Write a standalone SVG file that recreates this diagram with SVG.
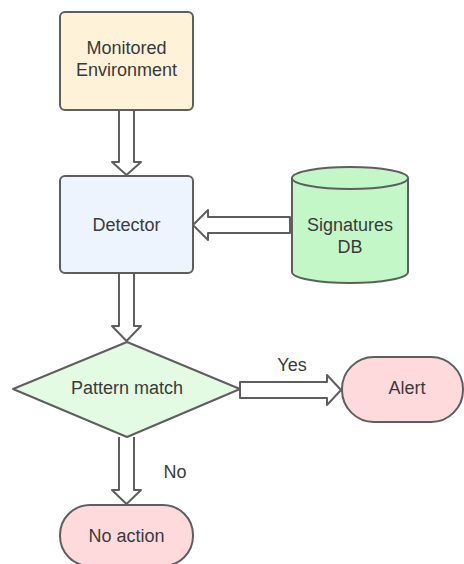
<svg xmlns="http://www.w3.org/2000/svg" width="464" height="564" viewBox="0 0 464 564">
<style>
.s{stroke:#5e5e5e;stroke-width:2;stroke-linejoin:round}
.t{font-family:"Liberation Sans",Arial,sans-serif;font-size:18px;fill:#3a3a3a;text-anchor:middle}
.a{fill:#ffffff;stroke:#5e5e5e;stroke-width:2;stroke-linejoin:round}
</style>
<rect width="464" height="564" fill="#ffffff"/>
<g id="connectors">
<path class="a" d="M119,110 L119,162 L112,162 L126.5,175 L141,162 L134,162 L134,110"/>
<path class="a" d="M290,217 L208,217 L208,210 L193,225 L208,240 L208,233 L290,233 Z"/>
<path class="a" d="M119,273 L119,326 L112,326 L126.5,341 L141,326 L134,326 L134,273"/>
<path class="a" d="M240,382 L327,382 L327,375 L341,390 L327,405 L327,398 L240,398 Z"/>
<path class="a" d="M119,437 L119,490 L112,490 L126.5,504 L141,490 L134,490 L134,437"/>
<text class="t" x="292" y="371">Yes</text>
<text class="t" x="175" y="478">No</text>
</g>
<g id="monitored">
<rect class="s" x="60" y="12" width="133" height="98" rx="5" fill="#fef2d9"/>
<text class="t" x="126.5" y="54">Monitored</text>
<text class="t" x="126.5" y="76">Environment</text>
</g>
<g id="detector">
<rect class="s" x="60" y="176" width="133" height="97" rx="5" fill="#edf4fe"/>
<text class="t" x="126.5" y="231">Detector</text>
</g>
<g id="db">
<path class="s" fill="#c3f7c8" d="M292,178 A58,11 0 0 1 408,178 L408,272 A58,11 0 0 1 292,272 Z"/>
<path class="s" fill="none" d="M292,178 A58,11 0 0 0 408,178"/>
<text class="t" x="350" y="231">Signatures</text>
<text class="t" x="350" y="253">DB</text>
</g>
<g id="pattern">
<path class="s" fill="#e3fae3" d="M127,342 L240,389 L127,437 L13,389 Z"/>
<text class="t" x="127" y="394">Pattern match</text>
</g>
<g id="alert">
<rect class="s" x="342" y="357" width="121" height="65" rx="32" fill="#ffdadc"/>
<text class="t" x="407" y="394">Alert</text>
</g>
<g id="noaction">
<rect class="s" x="60" y="505" width="133" height="61" rx="30" fill="#ffdadc"/>
<text class="t" x="126.5" y="542">No action</text>
</g>
</svg>
